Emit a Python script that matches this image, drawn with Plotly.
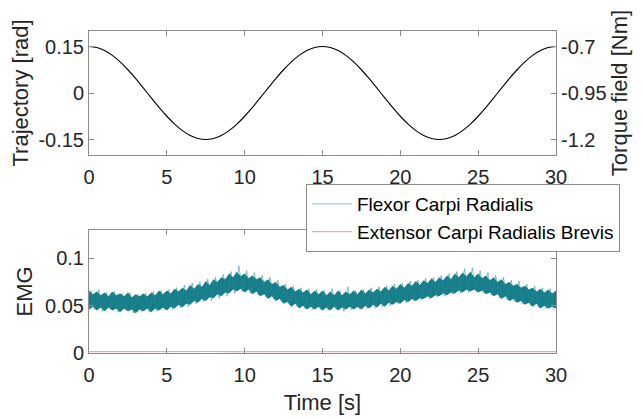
import plotly.graph_objects as go

# ---------------- data ----------------
traj_time = [i * 0.5 for i in range(61)]
trajectory = [0.15, 0.1467, 0.1370, 0.1214, 0.1004, 0.075, 0.0464, 0.0157,
              -0.0157, -0.0464, -0.075, -0.1004, -0.1214, -0.1370, -0.1467,
              -0.15, -0.1467, -0.1370, -0.1214, -0.1004, -0.075, -0.0464,
              -0.0157, 0.0157, 0.0464, 0.075, 0.1004, 0.1214, 0.1370, 0.1467,
              0.15, 0.1467, 0.1370, 0.1214, 0.1004, 0.075, 0.0464, 0.0157,
              -0.0157, -0.0464, -0.075, -0.1004, -0.1214, -0.1370, -0.1467,
              -0.15, -0.1467, -0.1370, -0.1214, -0.1004, -0.075, -0.0464,
              -0.0157, 0.0157, 0.0464, 0.075, 0.1004, 0.1214, 0.1370, 0.1467,
              0.15]

torque_time = [0, 7.5, 15, 22.5, 30]
torque_field = [-0.7, -1.2, -0.7, -1.2, -0.7]

emg_time = [i * 0.25 for i in range(121)]
fcr_upper = [0.066, 0.062, 0.065, 0.061, 0.064, 0.060, 0.065, 0.061, 0.063, 0.060,
             0.064, 0.059, 0.062, 0.060, 0.063, 0.060, 0.064, 0.061, 0.066, 0.062,
             0.066, 0.063, 0.068, 0.065, 0.069, 0.066, 0.072, 0.068, 0.073, 0.070,
             0.076, 0.072, 0.078, 0.075, 0.080, 0.078, 0.084, 0.080, 0.086, 0.081,
             0.084, 0.079, 0.082, 0.078, 0.080, 0.075, 0.078, 0.073, 0.075, 0.070,
             0.072, 0.067, 0.070, 0.065, 0.068, 0.064, 0.067, 0.062, 0.066, 0.062,
             0.066, 0.061, 0.065, 0.061, 0.066, 0.061, 0.065, 0.062, 0.066, 0.062,
             0.067, 0.063, 0.067, 0.064, 0.068, 0.065, 0.070, 0.066, 0.071, 0.068,
             0.073, 0.069, 0.074, 0.071, 0.076, 0.072, 0.077, 0.074, 0.079, 0.075,
             0.080, 0.077, 0.082, 0.078, 0.084, 0.080, 0.085, 0.081, 0.086, 0.080,
             0.084, 0.079, 0.082, 0.077, 0.080, 0.075, 0.078, 0.073, 0.075, 0.071,
             0.073, 0.069, 0.071, 0.067, 0.069, 0.065, 0.068, 0.064, 0.067, 0.063,
             0.066]
fcr_lower = [0.046, 0.049, 0.045, 0.048, 0.044, 0.048, 0.045, 0.047, 0.043, 0.047,
             0.044, 0.046, 0.042, 0.046, 0.044, 0.047, 0.043, 0.047, 0.045, 0.048,
             0.045, 0.049, 0.047, 0.051, 0.048, 0.052, 0.051, 0.055, 0.053, 0.057,
             0.055, 0.059, 0.058, 0.062, 0.060, 0.064, 0.063, 0.067, 0.065, 0.068,
             0.064, 0.067, 0.062, 0.065, 0.060, 0.062, 0.057, 0.060, 0.055, 0.057,
             0.052, 0.054, 0.049, 0.052, 0.047, 0.050, 0.046, 0.049, 0.046, 0.049,
             0.045, 0.048, 0.045, 0.049, 0.045, 0.048, 0.046, 0.049, 0.046, 0.049,
             0.046, 0.050, 0.047, 0.051, 0.048, 0.052, 0.049, 0.053, 0.051, 0.054,
             0.052, 0.056, 0.054, 0.057, 0.055, 0.058, 0.057, 0.060, 0.058, 0.061,
             0.060, 0.063, 0.061, 0.064, 0.063, 0.066, 0.064, 0.067, 0.065, 0.067,
             0.064, 0.066, 0.062, 0.064, 0.060, 0.062, 0.057, 0.060, 0.055, 0.057,
             0.053, 0.055, 0.051, 0.053, 0.049, 0.052, 0.047, 0.050, 0.047, 0.049,
             0.047]

spike_time = [0.125 + i * 0.25 for i in range(120)]
fcr_spikes = [0.066, 0.046, 0.067, 0.044, 0.064, 0.047, 0.065, 0.043, 0.063, 0.045,
              0.064, 0.042, 0.062, 0.044, 0.063, 0.043, 0.065, 0.044, 0.066, 0.046,
              0.067, 0.046, 0.069, 0.048, 0.072, 0.049, 0.074, 0.052, 0.075, 0.054,
              0.078, 0.055, 0.080, 0.058, 0.083, 0.060, 0.086, 0.063, 0.092, 0.065,
              0.087, 0.063, 0.085, 0.061, 0.082, 0.059, 0.080, 0.057, 0.077, 0.054,
              0.073, 0.051, 0.071, 0.049, 0.069, 0.047, 0.068, 0.046, 0.067, 0.046,
              0.066, 0.045, 0.068, 0.046, 0.066, 0.044, 0.070, 0.046, 0.066, 0.047,
              0.067, 0.047, 0.069, 0.048, 0.070, 0.049, 0.071, 0.050, 0.073, 0.052,
              0.074, 0.053, 0.076, 0.055, 0.077, 0.056, 0.079, 0.057, 0.080, 0.059,
              0.082, 0.060, 0.084, 0.062, 0.086, 0.063, 0.089, 0.064, 0.090, 0.065,
              0.087, 0.063, 0.085, 0.061, 0.082, 0.058, 0.080, 0.056, 0.077, 0.054,
              0.076, 0.052, 0.073, 0.050, 0.071, 0.048, 0.069, 0.047, 0.068, 0.045]

ecrb_time = [float(i) for i in range(31)]
ecrb = [0.0015, 0.0016, 0.0014, 0.0015, 0.0016, 0.0015, 0.0014, 0.0015, 0.0016, 0.0015,
        0.0015, 0.0014, 0.0016, 0.0015, 0.0015, 0.0014, 0.0015, 0.0016, 0.0015, 0.0014,
        0.0015, 0.0016, 0.0015, 0.0015, 0.0014, 0.0015, 0.0016, 0.0015, 0.0014, 0.0015,
        0.0015]

x_ticks = [0, 5, 10, 15, 20, 25, 30]
traj_ticks = [-0.15, 0, 0.15]
traj_labels = ["-0.15", "0", "0.15"]
torque_ticks = [-1.2, -0.95, -0.7]
torque_labels = ["-1.2", "-0.95", "-0.7"]
emg_ticks = [0, 0.05, 0.1]
emg_labels = ["0", "0.05", "0.1"]

# ---------------- styling ----------------
FONT = "Liberation Sans, Arial, sans-serif"
TXT = "#262626"
AX = "#8c8c8c"
TEAL = "rgb(22,126,138)"

fig = go.Figure()

fig.add_trace(go.Scatter(x=traj_time, y=trajectory, mode="lines",
                         line=dict(color="black", width=1.1, shape="spline"),
                         xaxis="x", yaxis="y", showlegend=False))
fig.add_trace(go.Scatter(x=torque_time, y=torque_field, mode="lines",
                         line=dict(color="rgba(0,0,0,0)", width=0),
                         xaxis="x", yaxis="y2", showlegend=False, hoverinfo="skip"))

# EMG dense band
fig.add_trace(go.Scatter(x=emg_time, y=fcr_lower, mode="lines",
                         line=dict(width=0, color=TEAL), xaxis="x2", yaxis="y3",
                         showlegend=False, hoverinfo="skip"))
fig.add_trace(go.Scatter(x=emg_time, y=fcr_upper, mode="lines",
                         line=dict(width=0, color=TEAL), fill="tonexty",
                         fillcolor=TEAL, xaxis="x2", yaxis="y3",
                         showlegend=False, hoverinfo="skip"))
fig.add_trace(go.Scatter(x=spike_time, y=fcr_spikes, mode="lines",
                         line=dict(color="rgba(40,140,150,0.55)", width=1),
                         name="Flexor Carpi Radialis", xaxis="x2", yaxis="y3"))
fig.add_trace(go.Scatter(x=ecrb_time, y=ecrb, mode="lines",
                         line=dict(color="rgba(235,110,110,0.6)", width=1.2),
                         name="Extensor Carpi Radialis Brevis", xaxis="x2", yaxis="y3"))

common_x = dict(range=[0, 30], tickvals=x_ticks, ticktext=[str(v) for v in x_ticks],
                ticks="inside", ticklen=5, tickcolor=AX, showline=True,
                linecolor=AX, linewidth=1, mirror="ticks", showgrid=False,
                zeroline=False, tickangle=0, ticklabelstandoff=4,
                tickfont=dict(size=20, color=TXT, family=FONT))

fig.update_layout(
    width=635, height=411,
    margin=dict(l=81, r=87, t=23, b=66, autoexpand=False),
    paper_bgcolor="white", plot_bgcolor="white",
    font=dict(family=FONT, color=TXT),
    xaxis=dict(domain=[0, 1], anchor="y", **common_x),
    yaxis=dict(domain=[0.6149, 1], anchor="x", range=[-0.2, 0.2],
               tickvals=traj_ticks, ticktext=traj_labels,
               ticks="inside", ticklen=5, tickcolor=AX, showline=True,
               linecolor=AX, linewidth=1, showgrid=False, zeroline=False,
               tickfont=dict(size=20, color=TXT, family=FONT),
               title=dict(text="Trajectory [rad]", standoff=3,
                          font=dict(size=22, color=TXT, family=FONT))),
    yaxis2=dict(overlaying="y", side="right", anchor="x",
                range=[-1.28333, -0.61667],
                tickvals=torque_ticks, ticktext=torque_labels,
                ticks="inside", ticklen=5, tickcolor=AX, showline=True,
                linecolor=AX, linewidth=1, showgrid=False, zeroline=False,
                tickfont=dict(size=20, color=TXT, family=FONT),
                title=dict(text="Torque field [Nm]", standoff=5,
                           font=dict(size=22, color=TXT, family=FONT))),
    xaxis2=dict(domain=[0, 1], anchor="y3",
                title=dict(text="Time [s]", standoff=9,
                           font=dict(size=22, color=TXT, family=FONT)),
                **common_x),
    yaxis3=dict(domain=[0, 0.382], anchor="x2", range=[0, 0.13],
                tickvals=emg_ticks, ticktext=emg_labels,
                ticks="inside", ticklen=5, tickcolor=AX, showline=True,
                linecolor=AX, linewidth=1, mirror="ticks", showgrid=False,
                zeroline=False, tickfont=dict(size=20, color=TXT, family=FONT),
                title=dict(text="EMG", standoff=6,
                           font=dict(size=22, color=TXT, family=FONT))),
    legend=dict(x=1.137, y=0.3137, xanchor="right", yanchor="bottom",
                traceorder="normal",
                bgcolor="white", bordercolor=AX, borderwidth=1,
                font=dict(size=19, color="black", family=FONT),
                itemwidth=40, tracegroupgap=0),
)

fig.write_html("out.html")
